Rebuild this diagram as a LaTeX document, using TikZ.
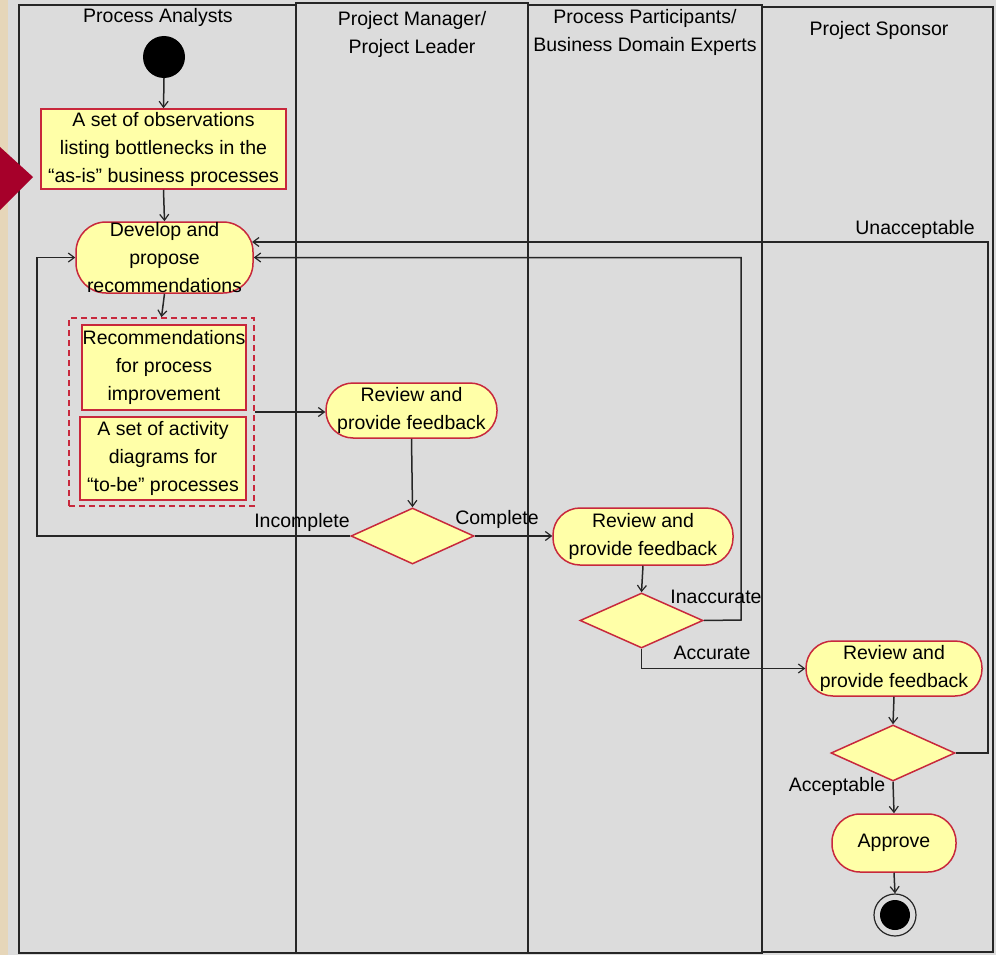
\documentclass[tikz,border=0pt]{standalone}
\usepackage{fontspec}
\setmainfont{Liberation Sans}
\usetikzlibrary{shapes.geometric,arrows.meta,calc}
\definecolor{bggray}{HTML}{DCDCDC}
\definecolor{beige}{HTML}{E6D6B9}
\definecolor{nodeyellow}{HTML}{FFFFA8}
\definecolor{nodered}{HTML}{C8283C}
\definecolor{markred}{HTML}{A6002A}
\tikzset{
  txt/.style={font=\fontsize{19.5}{28}\selectfont, align=center, inner sep=0pt},
  lane/.style={draw=black!85, line width=1.8pt},
  objbox/.style={txt, draw=nodered, fill=nodeyellow, line width=1.5pt, rectangle},
  actbox/.style={txt, draw=nodered, fill=nodeyellow, line width=1.5pt, rectangle},
  decision/.style={diamond, draw=nodered, fill=nodeyellow, line width=1.5pt, inner sep=0pt},
  conn/.style={draw=black!85, line width=1.5pt, -{Straight Barb[length=6pt,width=9pt,line width=1.2pt]}},
  lbl/.style={txt}
}
\begin{document}
\begin{tikzpicture}[x=1pt,y=-1pt]
\useasboundingbox (0,0) rectangle (996,955);
\fill[bggray] (0,0) rectangle (996,955);
\fill[beige] (0,0) rectangle (8,955);
% swimlanes
\draw[lane] (19,5) rectangle (296,953);
\draw[lane] (296,3) rectangle (528,953);
\draw[lane] (528,5) rectangle (762,953);
\draw[lane] (762,7) rectangle (993,952);
\node[txt] (h1) at (158,17) {Process Analysts};
\node[txt] (h2) at (412,34) {Project Manager/\\Project Leader};
\node[txt] (h3) at (645,32) {Process Participants/\\Business Domain Experts};
\node[txt] (h4) at (879,30) {Project Sponsor};
% nodes
\node[circle, fill=black, minimum size=42pt, inner sep=0pt] (start) at (164,57) {};
\node[objbox, minimum width=245pt, minimum height=80pt] (obs) at (163.5,149) {A set of observations\\listing bottlenecks in the\\“as-is” business processes};
\node[actbox, rounded corners=30pt, minimum width=177pt, minimum height=71pt] (dev) at (164.5,257.5) {Develop and\\propose\\recommendations};
\node[draw=nodered, dashed, dash pattern=on 6pt off 4pt, line width=1.5pt, minimum width=185pt, minimum height=188pt, inner sep=0pt] (grp) at (161.5,412) {};
\node[objbox, minimum width=164pt, minimum height=85pt] (rec) at (164,367.5) {Recommendations\\for process\\improvement};
\node[objbox, minimum width=166pt, minimum height=83pt] (actd) at (163,458.5) {A set of activity\\diagrams for\\“to-be” processes};
\node[actbox, rounded corners=27pt, minimum width=171pt, minimum height=55pt] (rev1) at (411.5,410.5) {Review and\\provide feedback};
\node[decision, minimum width=123pt, minimum height=56pt] (dia1) at (412.5,536) {};
\node[actbox, rounded corners=27pt, minimum width=180pt, minimum height=57pt] (rev2) at (643,536.5) {Review and\\provide feedback};
\node[decision, minimum width=123pt, minimum height=55pt] (dia2) at (641.5,620.5) {};
\node[actbox, rounded corners=27pt, minimum width=176pt, minimum height=55pt] (rev3) at (894,668.5) {Review and\\provide feedback};
\node[decision, minimum width=124pt, minimum height=56pt] (dia3) at (893,753) {};
\node[actbox, rounded corners=28pt, minimum width=124pt, minimum height=58pt] (appr) at (894,843) {Approve};
\node[circle, draw=black!85, fill=bggray, line width=1.2pt, minimum size=42pt, inner sep=0pt] (end) at (895,915) {};
\node[circle, fill=black, minimum size=30pt, inner sep=0pt] (endc) at (end.center) {};
% free ends of loops
\coordinate (incL) at (37,536);
\coordinate (inaR) at (741,620);
\coordinate (unaR) at (988,753);
\coordinate (devUp) at (252,242);
% connectors
\draw[conn] (start.south) -- (obs.north);
\draw[conn] (obs.south) -- (dev.north);
\draw[conn] (dev.south) -- (grp.north);
\draw[conn] (grp.east) -- (grp.east -| rev1.west);
\draw[conn] (rev1.south) -- (dia1.north);
\draw[conn] (dia1.east) -- (rev2.west |- dia1.east);
\draw[conn] (dia1.west) -- (incL) |- (dev.west);
\draw[conn] (rev2.south) -- (dia2.north);
\draw[conn] (dia2.east) -- (inaR) |- (dev.east);
\draw[conn] (dia2.south) |- (rev3.west);
\draw[conn] (rev3.south) -- (dia3.north);
\draw[conn] (dia3.east) -- (unaR) |- (devUp);
\draw[conn] (dia3.south) -- (appr.north);
\draw[conn] (appr.south) -- (end.north);
% labels
\node[lbl] (lInc) at (302,522) {Incomplete};
\node[lbl] (lCom) at (497,519) {Complete};
\node[lbl] (lIna) at (716,597) {Inaccurate};
\node[lbl] (lAcc) at (712,653) {Accurate};
\node[lbl] (lUna) at (915,229) {Unacceptable};
\node[lbl] (lAcp) at (837,786) {Acceptable};
% marker
\fill[markred] (0,147) -- (33,177) -- (0,210) -- cycle;
\end{tikzpicture}
\end{document}
